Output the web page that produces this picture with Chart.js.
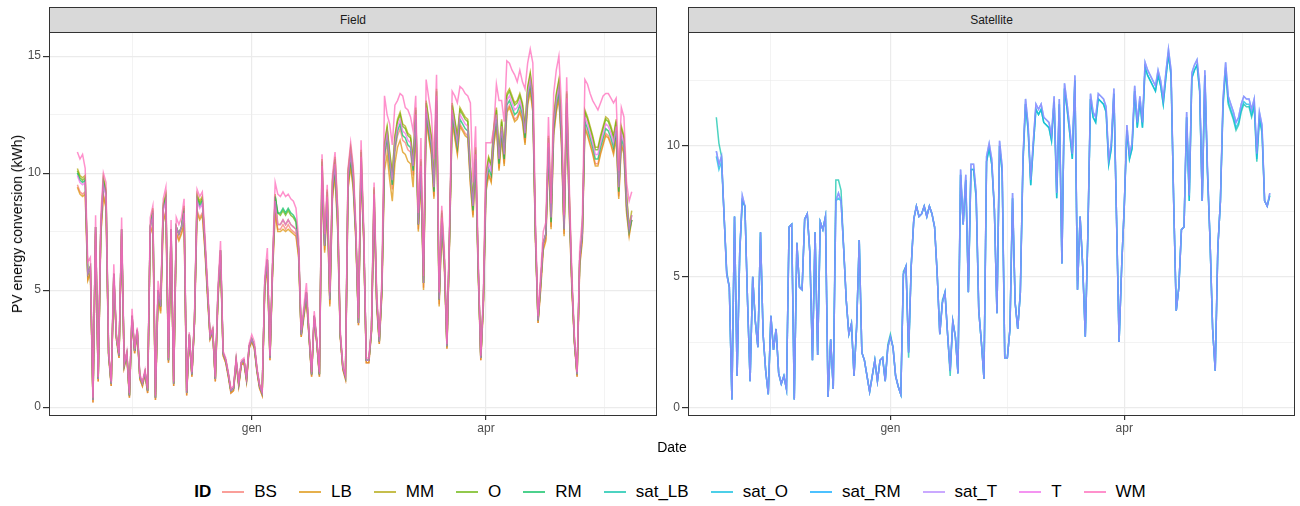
<!DOCTYPE html>
<html>
<head>
<meta charset="utf-8">
<script src="https://cdn.jsdelivr.net/npm/chart.js@4.4.1/dist/chart.umd.min.js"></script>
<style>
  body { margin: 0; width: 1300px; height: 506px; background: #fff; position: relative; overflow: hidden; font-family: 'Liberation Sans', Arial, sans-serif; }
  canvas { position: absolute; }
  .strip { position: absolute; top: 7px; height: 24px; background: #D9D9D9; border: 1px solid #333; border-bottom: none; font-size: 12px; color: #1A1A1A; display: flex; align-items: center; justify-content: center; }
  #yTitle { position: absolute; left: 17px; top: 224px; transform: translate(-50%, -50%) rotate(-90deg); white-space: nowrap; font-size: 14px; color: #000; }
  #xTitle { position: absolute; left: 672px; top: 447px; transform: translate(-50%, -50%); font-size: 14px; color: #000; }
  #legend { position: absolute; top: 480px; left: 20px; width: 1300px; height: 24px; display: flex; justify-content: center; align-items: center; font-size: 17px; color: #000; }
  #legend .title { font-weight: bold; margin-right: 11px; }
  #legend .key { width: 22px; height: 2.5px; margin-right: 10px; }
  #legend .lab { margin-right: 22px; }
</style>
</head>
<body>
<div class="strip" style="left:49px; width:606px;">Field</div>
<div class="strip" style="left:688px; width:605px;">Satellite</div>
<canvas id="fieldChart" width="662" height="430" style="left:0; top:22px;"></canvas>
<canvas id="satChart" width="640" height="430" style="left:660px; top:22px;"></canvas>
<div id="yTitle">PV energy conversion (kWh)</div>
<div id="xTitle">Date</div>
<div id="legend"><span class="title">ID</span></div>
<script>
const seriesNames = ['BS', 'LB', 'MM', 'O', 'RM', 'sat_LB', 'sat_O', 'sat_RM', 'sat_T', 'T', 'WM'];
const seriesColors = ['#F8766D', '#DB8E00', '#AEA200', '#64B200', '#00BD5C', '#00C1A7', '#00BADE', '#00A6FF', '#B385FF', '#EF67EB', '#FF63B6'];

// days counted from 1 gen; first value is 26 ott
const firstDay = -67;
const xTickValues = [-46, 0, 45, 90, 135.5];
const xTickLabels = ['', 'gen', '', 'apr', ''];
const fieldYTicks = [0, 2.5, 5, 7.5, 10, 12.5, 15];
const satYTicks = [0, 2.5, 5, 7.5, 10, 12.5];

// Field (kWh per day)
const BS = [9.5,9.2,9.1,9.2,5.5,5.8,0.2,7.5,1.1,7.4,
  9.1,8.6,2.2,0.9,5.5,2.9,2.1,7.4,1.7,2.2,
  0.4,3.8,2.3,3.2,1.2,0.9,1.4,0.6,7.5,7.8,
  0.3,4.8,4.1,8.0,8.4,1.9,7.4,0.9,7.5,7.2,
  7.5,7.9,0.5,3.0,1.3,3.6,8.4,8.1,8.3,6.8,
  4.8,2.9,3.2,1.1,4.6,6.5,2.2,1.9,1.3,0.6,
  0.7,1.9,0.9,1.8,1.9,1.1,2.5,2.8,2.5,1.5,
  0.8,0.5,5.1,6.1,2.0,5.8,8.4,7.6,7.6,7.8,
  7.6,7.8,7.6,7.5,7.4,6.5,3.0,3.9,4.7,3.0,
  1.3,3.8,2.7,1.3,9.9,6.7,8.6,4.4,9.0,10.0,
  7.7,3.0,1.6,1.2,9.4,10.4,9.4,7.2,3.5,10.3,
  7.2,1.9,1.9,3.2,8.7,4.4,2.7,4.9,10.6,11.3,
  10.2,9.3,10.9,11.6,11.9,11.4,11.3,11.0,10.9,9.9,
  12.1,7.6,9.9,5.1,12.4,11.6,10.9,9.0,12.9,4.4,
  7.7,6.1,2.5,7.2,12.3,11.6,10.9,12.1,11.9,11.7,
  11.6,9.6,8.2,10.4,5.8,2.0,4.4,9.3,10.0,9.7,
  11.3,12.1,10.2,11.6,10.4,12.7,12.9,12.6,12.3,12.4,
  12.7,12.3,11.3,13.0,13.6,12.7,7.2,3.6,5.1,6.8,
  7.2,10.9,7.7,11.7,12.7,13.3,11.3,7.4,12.8,8.4,
  5.1,2.7,1.3,6.1,7.2,12.0,11.7,11.3,10.9,10.4,
  10.4,10.9,11.3,11.7,11.6,11.3,10.9,11.6,9.0,11.3,
  10.9,8.4,7.4,8.0];
const LB = [9.4,9.1,9.0,9.1,5.4,5.7,0.2,7.4,1.1,7.3,
  9.0,8.5,2.2,0.9,5.4,2.9,2.1,7.3,1.7,2.2,
  0.4,3.8,2.3,3.2,1.2,0.9,1.4,0.6,7.4,7.7,
  0.3,4.7,4.0,7.9,8.3,1.9,7.3,0.9,7.4,7.1,
  7.4,7.8,0.5,3.0,1.3,3.6,8.3,8.0,8.2,6.7,
  4.7,2.9,3.2,1.1,4.5,6.4,2.2,1.9,1.3,0.6,
  0.7,1.9,0.9,1.8,1.9,1.1,2.5,2.8,2.5,1.5,
  0.8,0.5,5.0,6.0,2.0,5.7,8.3,7.5,7.5,7.6,
  7.5,7.6,7.5,7.4,7.3,6.4,3.0,3.8,4.6,3.0,
  1.3,3.8,2.7,1.3,9.8,6.6,8.5,4.3,8.9,9.9,
  7.6,3.0,1.6,1.2,9.3,10.3,9.3,7.1,3.5,10.2,
  7.1,1.9,1.9,3.2,8.6,4.3,2.7,4.8,10.1,10.8,
  9.7,8.8,10.4,11.1,11.4,10.9,10.8,10.5,10.4,9.4,
  11.8,7.5,9.8,5.0,12.3,11.5,10.8,8.9,12.8,4.3,
  7.6,6.0,2.5,7.1,12.2,11.5,10.8,12.0,11.8,11.6,
  11.5,9.5,8.1,10.3,5.7,2.0,4.3,9.2,9.9,9.6,
  11.2,12.0,10.1,11.5,10.3,12.6,12.8,12.5,12.2,12.3,
  12.6,12.2,11.2,12.9,13.5,12.6,7.1,3.6,5.0,6.7,
  7.1,10.8,7.6,11.6,12.6,13.2,11.2,7.3,12.7,8.3,
  5.0,2.7,1.3,6.0,7.1,11.9,11.6,11.2,10.8,10.3,
  10.3,10.8,11.2,11.6,11.5,11.2,10.8,11.5,8.9,11.2,
  10.8,8.3,7.3,8.0];
const MM = [10.2,9.9,9.8,9.9,5.7,6.0,0.3,7.7,1.2,7.6,
  9.8,9.3,2.3,1.0,5.7,3.0,2.2,7.6,1.8,2.3,
  0.5,3.9,2.4,3.3,1.3,1.0,1.5,0.7,7.7,8.5,
  0.4,5.0,4.3,8.7,9.1,2.0,7.6,1.0,7.7,7.4,
  7.7,8.6,0.6,3.1,1.4,3.7,9.1,8.8,9.0,7.0,
  5.0,3.0,3.3,1.2,4.8,6.7,2.3,2.0,1.4,0.7,
  0.8,2.0,1.0,1.9,2.0,1.2,2.6,2.9,2.6,1.6,
  0.9,0.6,5.3,6.3,2.1,6.0,9.1,7.8,7.8,8.0,
  7.8,8.0,7.8,7.7,7.6,6.7,3.1,4.0,4.9,3.1,
  1.4,3.9,2.8,1.4,10.6,6.9,9.3,4.6,9.7,10.7,
  8.4,3.1,1.7,1.3,10.1,11.1,10.1,7.4,3.6,11.0,
  7.4,2.0,2.0,3.3,9.4,4.6,2.8,5.1,11.3,12.0,
  10.9,10.0,11.6,12.3,12.6,12.1,12.0,11.7,11.6,10.6,
  12.8,7.8,10.6,5.3,13.1,12.3,11.6,9.7,13.6,4.6,
  8.4,6.3,2.6,7.4,13.0,12.3,11.6,12.8,12.6,12.4,
  12.3,10.3,8.9,11.1,6.0,2.1,4.6,10.0,10.7,10.4,
  12.0,12.8,10.9,12.3,11.1,13.4,13.6,13.3,13.0,13.1,
  13.4,13.0,12.0,13.7,14.3,13.4,7.4,3.7,5.3,7.0,
  7.4,11.6,8.4,12.4,13.4,14.0,12.0,7.6,13.5,9.1,
  5.3,2.8,1.4,6.3,7.4,12.7,12.4,12.0,11.6,11.1,
  11.1,11.6,12.0,12.4,12.3,12.0,11.6,12.3,9.7,12.0,
  11.6,9.1,7.7,8.4];
const O = [10.1,9.8,9.7,9.8,5.7,6.0,0.3,7.7,1.2,7.6,
  9.7,9.2,2.3,1.0,5.7,3.0,2.2,7.6,1.8,2.3,
  0.5,3.9,2.4,3.3,1.3,1.0,1.5,0.7,7.7,8.4,
  0.4,5.0,4.3,8.6,9.0,2.0,7.6,1.0,7.7,7.4,
  7.7,8.5,0.6,3.1,1.4,3.7,9.0,8.7,8.9,7.0,
  5.0,3.0,3.3,1.2,4.8,6.7,2.3,2.0,1.4,0.7,
  0.8,2.0,1.0,1.9,2.0,1.2,2.6,2.9,2.6,1.6,
  0.9,0.6,5.3,6.3,2.1,6.0,9.0,8.3,8.2,8.4,
  8.2,8.4,8.2,8.1,7.9,6.8,3.1,4.0,4.9,3.1,
  1.4,3.9,2.8,1.4,10.5,6.9,9.2,4.6,9.6,10.6,
  8.3,3.1,1.7,1.3,10.0,11.0,10.0,7.4,3.6,10.9,
  7.4,2.0,2.0,3.3,9.3,4.6,2.8,5.1,11.2,11.9,
  10.8,9.9,11.5,12.2,12.5,12.0,11.9,11.6,11.5,10.5,
  12.7,7.8,10.5,5.3,13.0,12.2,11.5,9.6,13.5,4.6,
  8.3,6.3,2.6,7.4,12.9,12.2,11.5,12.7,12.5,12.3,
  12.2,10.2,8.8,11.0,6.0,2.1,4.6,9.9,10.6,10.3,
  11.9,12.7,10.8,12.2,11.0,13.3,13.5,13.2,12.9,13.0,
  13.3,12.9,11.9,13.6,14.2,13.3,7.4,3.7,5.3,7.0,
  7.4,11.5,8.3,12.3,13.3,13.9,11.9,7.6,13.4,9.0,
  5.3,2.8,1.4,6.3,7.4,12.6,12.3,11.9,11.5,11.0,
  11.0,11.5,11.9,12.3,12.2,11.9,11.5,12.2,9.6,11.9,
  11.5,9.0,7.6,8.2];
const RM = [10.0,9.7,9.6,9.7,5.7,6.0,0.3,7.7,1.2,7.6,
  9.6,9.1,2.3,1.0,5.7,3.0,2.2,7.6,1.8,2.3,
  0.5,3.9,2.4,3.3,1.3,1.0,1.5,0.7,7.7,8.3,
  0.4,5.0,4.3,8.5,8.9,2.0,7.6,1.0,7.7,7.4,
  7.7,8.4,0.6,3.1,1.4,3.7,8.9,8.6,8.8,7.0,
  5.0,3.0,3.3,1.2,4.8,6.7,2.3,2.0,1.4,0.7,
  0.8,2.0,1.0,1.9,2.0,1.2,2.6,2.9,2.6,1.6,
  0.9,0.6,5.3,6.3,2.1,6.0,9.0,8.3,8.3,8.5,
  8.3,8.5,8.3,8.2,8.0,6.8,3.1,4.0,4.9,3.1,
  1.4,3.9,2.8,1.4,10.1,6.9,8.8,4.6,9.2,10.2,
  7.9,3.1,1.7,1.3,9.6,10.6,9.6,7.4,3.6,10.5,
  7.4,2.0,2.0,3.3,8.9,4.6,2.8,5.1,10.8,11.5,
  10.4,9.5,11.1,11.8,12.1,11.6,11.5,11.2,11.1,10.1,
  12.3,7.8,10.1,5.3,12.6,11.8,11.1,9.2,13.1,4.6,
  7.9,6.3,2.6,7.4,12.5,11.8,11.1,12.3,12.1,11.9,
  11.8,9.8,8.4,10.6,6.0,2.1,4.6,9.5,10.2,9.9,
  11.5,12.3,10.4,11.8,10.6,12.9,13.1,12.8,12.5,12.6,
  12.9,12.5,11.5,13.2,13.8,12.9,7.4,3.7,5.3,7.0,
  7.4,11.1,7.9,11.9,12.9,13.5,11.5,7.6,13.0,8.6,
  5.3,2.8,1.4,6.3,7.4,12.2,11.9,11.5,11.1,10.6,
  10.6,11.1,11.5,11.9,11.8,11.5,11.1,11.8,9.2,11.5,
  11.1,8.6,7.5,8.0];
const T = [9.9,9.6,9.5,9.6,5.7,6.0,0.3,7.7,1.2,7.6,
  9.5,9.0,2.3,1.0,5.7,3.0,2.2,7.6,1.8,2.3,
  0.5,3.9,2.4,3.3,1.3,1.0,1.5,0.7,7.7,8.2,
  0.4,5.0,4.3,8.4,8.8,2.0,7.6,1.0,7.7,7.4,
  7.7,8.3,0.6,3.1,1.4,3.7,8.8,8.5,8.7,7.0,
  5.0,3.0,3.3,1.2,4.8,6.7,2.3,2.0,1.4,0.7,
  0.8,2.0,1.0,1.9,2.0,1.2,2.6,2.9,2.6,1.6,
  0.9,0.6,5.3,6.3,2.1,6.0,8.8,7.8,7.8,8.0,
  7.8,8.0,7.8,7.7,7.6,6.7,3.1,4.0,4.9,3.1,
  1.4,3.9,2.8,1.4,10.3,6.9,9.0,4.6,9.4,10.4,
  8.1,3.1,1.7,1.3,9.8,10.8,9.8,7.4,3.6,10.7,
  7.4,2.0,2.0,3.3,9.1,4.6,2.8,5.1,11.0,11.7,
  10.6,9.7,11.3,12.0,12.3,11.8,11.7,11.4,11.3,10.3,
  12.5,7.8,10.3,5.3,12.8,12.0,11.3,9.4,13.3,4.6,
  8.1,6.3,2.6,7.4,12.7,12.0,11.3,12.5,12.3,12.1,
  12.0,10.0,8.6,10.8,6.0,2.1,4.6,9.7,10.4,10.1,
  11.7,12.5,10.6,12.0,10.8,13.1,13.3,13.0,12.7,12.8,
  13.1,12.7,11.7,13.4,14.0,13.1,7.4,3.7,5.3,7.0,
  7.4,11.3,8.1,12.1,13.1,13.7,11.7,7.6,13.2,8.8,
  5.3,2.8,1.4,6.3,7.4,12.4,12.1,11.7,11.3,10.8,
  10.8,11.3,11.7,12.1,12.0,11.7,11.3,12.0,9.4,11.7,
  11.3,8.8,7.6,8.2];
const WM = [10.9,10.6,10.8,10.2,6.2,6.4,0.4,8.2,1.3,8.2,
  10.0,9.6,2.4,1.1,6.1,3.1,2.3,8.1,1.9,2.4,
  0.6,4.2,2.5,3.4,1.4,1.1,1.6,0.8,8.1,8.6,
  0.5,5.4,4.6,8.9,9.4,2.1,8.0,1.1,8.1,7.8,
  8.1,8.9,0.7,3.2,1.5,3.9,9.3,9.0,9.2,7.4,
  5.3,3.1,3.4,1.3,5.1,7.1,2.4,2.1,1.5,0.8,
  0.9,2.1,1.1,2.0,2.1,1.3,2.7,3.1,2.8,1.7,
  1.0,0.7,5.6,6.8,2.2,6.4,9.6,9.1,9.0,9.2,
  9.0,9.1,8.9,8.8,8.5,7.2,3.3,4.3,5.3,3.3,
  1.5,4.1,2.9,1.5,10.8,7.4,9.5,4.9,9.9,10.9,
  8.6,3.3,1.8,1.4,10.2,11.3,10.3,7.8,3.8,11.4,
  7.8,2.1,2.1,3.5,9.6,4.9,3.0,5.5,13.3,12.5,
  12.1,11.2,12.9,13.1,13.4,13.3,12.8,12.7,12.4,11.8,
  13.3,8.3,11.5,5.6,14.0,13.2,12.5,10.6,14.2,4.9,
  8.6,6.7,2.7,7.9,13.5,13.3,13.0,13.7,13.6,13.4,
  13.3,13.0,9.6,12.0,6.4,2.2,4.9,11.3,11.3,11.3,
  11.9,13.8,13.1,13.1,12.2,14.8,14.7,14.4,14.2,13.9,
  14.4,13.9,13.6,14.7,15.3,14.7,8.0,3.9,5.7,7.5,
  7.9,12.4,8.7,13.4,14.4,15.0,12.9,8.2,14.1,9.5,
  5.7,3.0,1.5,6.8,8.0,14.0,13.8,13.4,13.1,12.9,
  12.7,13.0,13.3,13.4,13.4,13.2,13.0,13.2,10.1,12.8,
  12.4,9.6,8.8,9.2];

// Satellite (kWh per day)
const satLB = [11.1,10.1,9.6,7.3,5.2,4.6,0.3,7.3,1.2,5.9,
  7.9,7.7,4.1,1.0,5.0,3.3,2.3,6.7,2.8,1.4,
  0.5,3.5,2.2,3.0,1.3,0.9,1.2,0.7,6.9,7.0,
  0.3,6.3,4.6,4.5,7.2,7.4,5.9,1.8,6.7,2.0,
  7.1,6.8,7.3,0.4,2.6,0.7,8.7,8.7,8.3,6.1,
  4.1,2.8,3.2,1.2,3.1,6.4,2.1,1.8,1.2,0.6,
  1.2,1.8,1.0,1.8,1.9,1.0,2.4,2.8,2.3,1.2,
  0.8,0.5,5.2,5.4,1.9,5.4,7.2,7.7,7.3,7.4,
  7.7,7.3,7.7,7.4,6.9,5.1,2.8,4.1,4.4,2.8,
  1.2,3.3,2.7,1.3,8.9,7.0,8.7,4.4,9.1,9.1,
  8.0,3.7,2.5,1.1,9.4,9.9,9.3,7.6,3.6,10.0,
  9.0,1.9,1.9,3.0,8.0,4.0,3.0,4.4,9.3,11.6,
  10.6,8.5,10.0,11.4,11.2,11.4,10.9,10.8,10.7,10.2,
  11.7,8.0,11.6,5.5,12.2,11.4,10.5,9.5,12.5,4.5,
  7.3,5.4,2.7,6.7,11.8,11.1,10.9,11.8,11.7,11.6,
  11.3,9.3,9.9,12.0,7.3,2.5,5.4,7.7,10.6,9.5,
  9.9,12.1,10.7,11.7,10.7,13.0,12.7,12.5,12.3,12.1,
  12.7,12.3,11.6,12.6,13.5,12.7,7.9,3.7,4.6,6.8,
  6.9,11.1,7.9,12.6,12.9,13.1,12.1,7.9,12.7,9.0,
  6.4,3.0,1.4,6.1,7.9,11.5,12.9,11.6,11.3,11.0,
  10.6,10.8,11.3,11.6,11.5,11.5,11.1,11.5,9.4,11.0,
  10.5,7.9,7.7,8.1];
const satO = [9.6,9.1,9.4,7.3,5.1,4.6,0.3,7.3,1.2,5.9,
  7.9,7.7,4.1,1.0,5.0,3.3,2.3,6.7,2.8,1.4,
  0.5,3.5,2.2,3.0,1.3,0.9,1.2,0.7,6.9,7.0,
  0.3,6.3,4.6,4.5,7.2,7.4,5.9,1.8,6.7,2.0,
  7.1,6.8,7.3,0.4,2.6,0.7,7.9,8.0,7.9,6.1,
  4.1,2.8,3.2,1.2,3.1,6.4,2.1,1.8,1.2,0.6,
  1.2,1.8,1.0,1.8,1.9,1.0,2.3,2.7,2.3,1.2,
  0.8,0.5,5.1,5.4,2.1,5.4,7.2,7.7,7.3,7.4,
  7.7,7.3,7.7,7.4,6.9,5.1,2.8,4.0,4.4,2.8,
  1.4,3.3,2.7,1.3,8.9,7.0,8.7,4.4,9.1,9.1,
  8.0,3.7,2.5,1.1,9.4,9.9,9.3,7.6,3.6,10.0,
  9.0,1.9,1.9,3.0,8.0,4.0,3.0,4.4,9.3,11.6,
  10.6,8.5,10.0,11.4,11.2,11.4,10.9,10.8,10.7,10.2,
  11.7,8.0,11.6,5.5,12.2,11.4,10.5,9.5,12.5,4.5,
  7.3,5.4,2.7,6.7,11.8,11.1,10.9,11.8,11.7,11.6,
  11.3,9.3,9.9,12.0,7.3,2.5,5.4,7.7,10.6,9.5,
  9.9,12.1,10.7,11.7,10.7,13.0,12.7,12.5,12.3,12.1,
  12.7,12.3,11.6,12.6,13.5,12.7,7.9,3.7,4.6,6.8,
  6.9,11.1,7.9,12.6,12.9,13.1,12.1,7.9,12.7,9.0,
  6.4,3.0,1.4,6.1,7.9,11.6,13.0,11.7,11.4,11.1,
  10.7,10.9,11.4,11.7,11.6,11.6,11.2,11.6,9.5,11.1,
  10.6,7.9,7.7,8.1];
const satRM = [9.8,9.3,9.6,7.3,5.1,4.6,0.3,7.3,1.2,5.9,
  8.1,7.7,4.1,1.0,5.0,3.3,2.3,6.7,2.8,1.4,
  0.5,3.5,2.2,3.0,1.3,0.9,1.2,0.7,6.9,7.0,
  0.3,6.3,4.6,4.5,7.2,7.4,5.9,1.8,6.7,2.0,
  7.1,6.8,7.3,0.4,2.6,0.7,7.9,8.2,7.9,6.1,
  4.1,2.8,3.2,1.2,3.1,6.4,2.1,1.8,1.2,0.6,
  1.2,1.8,1.0,1.8,1.9,1.0,2.3,2.7,2.3,1.2,
  0.8,0.5,5.1,5.4,2.1,5.4,7.2,7.7,7.3,7.4,
  7.7,7.3,7.7,7.4,6.9,5.1,2.8,4.0,4.4,2.8,
  1.4,3.3,2.7,1.3,9.1,7.0,8.9,4.4,9.3,9.3,
  8.2,3.7,2.5,1.1,9.6,10.1,9.5,7.6,3.6,10.2,
  9.2,1.9,1.9,3.0,8.2,4.0,3.0,4.4,9.5,11.8,
  10.8,8.7,10.2,11.6,11.4,11.6,11.1,11.0,10.9,10.4,
  11.9,8.2,11.8,5.5,12.4,11.6,10.7,9.7,12.7,4.5,
  7.3,5.4,2.7,6.7,12.0,11.3,11.1,12.0,11.9,11.8,
  11.5,9.5,10.1,12.2,7.3,2.5,5.4,7.7,10.8,9.7,
  10.1,12.3,10.9,11.9,10.9,13.2,12.9,12.7,12.5,12.3,
  12.9,12.5,11.8,12.8,13.7,12.9,7.9,3.7,4.6,6.8,
  6.9,11.3,8.1,12.8,13.1,13.3,12.3,7.9,12.9,9.2,
  6.4,3.0,1.4,6.1,7.9,11.8,13.2,11.9,11.6,11.3,
  10.9,11.1,11.6,11.9,11.8,11.8,11.4,11.8,9.7,11.3,
  10.8,7.9,7.7,8.2];
const satT = [9.8,9.3,9.6,7.3,5.1,4.6,0.3,7.3,1.2,5.9,
  8.1,7.7,4.1,1.0,5.0,3.3,2.3,6.7,2.8,1.4,
  0.5,3.5,2.2,3.0,1.3,0.9,1.2,0.7,6.9,7.0,
  0.3,6.3,4.6,4.5,7.2,7.4,5.9,1.8,6.7,2.0,
  7.1,6.8,7.3,0.4,2.6,0.7,7.9,8.2,7.9,6.1,
  4.1,2.8,3.2,1.2,3.1,6.4,2.1,1.8,1.2,0.6,
  1.2,1.8,1.0,1.8,1.9,1.0,2.3,2.7,2.3,1.2,
  0.8,0.5,5.1,5.4,2.1,5.4,7.2,7.7,7.3,7.4,
  7.7,7.3,7.7,7.4,6.9,5.1,2.8,4.0,4.4,2.8,
  1.4,3.3,2.7,1.3,9.1,7.0,8.9,4.4,9.3,9.3,
  8.2,3.7,2.5,1.1,9.6,10.1,9.5,7.6,3.6,10.2,
  9.2,1.9,1.9,3.0,8.2,4.0,3.0,4.4,9.5,11.8,
  10.8,8.7,10.2,11.6,11.4,11.6,11.1,11.0,10.9,10.4,
  11.9,8.2,11.8,5.5,12.4,11.6,10.7,9.7,12.7,4.5,
  7.3,5.4,2.7,6.7,12.0,11.3,11.1,12.0,11.9,11.8,
  11.5,9.5,10.1,12.2,7.3,2.5,5.4,7.7,10.8,9.7,
  10.1,12.3,10.9,11.9,10.9,13.2,12.9,12.7,12.5,12.3,
  12.9,12.5,11.8,12.8,13.7,12.9,7.9,3.7,4.6,6.8,
  6.9,11.3,8.1,12.8,13.1,13.3,12.3,7.9,12.9,9.2,
  6.4,3.0,1.4,6.1,7.9,11.8,13.2,11.9,11.6,11.3,
  10.9,11.1,11.6,11.9,11.8,11.8,11.4,11.8,9.7,11.3,
  10.8,7.9,7.7,8.2];

Chart.defaults.font.family = "'Liberation Sans', Arial, sans-serif";

// draws the grey20 box round the plot area, like theme_bw
const panelBorder = {
  id: 'panelBorder',
  afterDraw(chart) {
    const { ctx, chartArea: a } = chart;
    ctx.save();
    ctx.strokeStyle = '#333333';
    ctx.lineWidth = 1;
    ctx.strokeRect(Math.round(a.left) + 0.5, Math.round(a.top) + 0.5, Math.round(a.width) - 1, Math.round(a.height) - 1);
    ctx.restore();
  }
};

function makeDataset(name, values) {
  const i = seriesNames.indexOf(name);
  return {
    label: name,
    data: values.map((v, k) => ({ x: firstDay + k, y: v })),
    borderColor: seriesColors[i] + 'B3',
    borderWidth: 1.5,
    pointRadius: 0,
    tension: 0,
    order: -i
  };
}

function makeOptions(yMin, yMax, yTicks, yWidth, rightPad) {
  const tickFont = { size: 12 };
  return {
    responsive: false,
    animation: false,
    devicePixelRatio: 1,
    layout: { padding: { top: 10, right: rightPad, bottom: 0, left: 0 } },
    plugins: { legend: { display: false }, tooltip: { enabled: false } },
    scales: {
      x: {
        type: 'linear',
        min: -77.9,
        max: 155.7,
        afterBuildTicks: s => { s.ticks = xTickValues.map(v => ({ value: v })); },
        afterFit: s => { s.height = 36; },
        ticks: {
          autoSkip: false, maxRotation: 0, padding: 1, color: '#4D4D4D', font: tickFont,
          callback: (v, i) => xTickLabels[i]
        },
        grid: {
          color: '#EBEBEB',
          lineWidth: c => (xTickLabels[c.index] ? 1.2 : 0.6),
          tickLength: 4,
          tickColor: c => (xTickLabels[c.index] ? '#333333' : 'rgba(0,0,0,0)')
        },
        border: { display: false }
      },
      y: {
        type: 'linear',
        min: yMin,
        max: yMax,
        afterBuildTicks: s => { s.ticks = yTicks.map(v => ({ value: v })); },
        afterFit: s => { s.width = yWidth; },
        ticks: {
          autoSkip: false, padding: 2, color: '#4D4D4D', font: tickFont,
          callback: v => (v % 5 === 0 ? String(v) : '')
        },
        grid: {
          color: '#EBEBEB',
          lineWidth: c => (c.tick && c.tick.value % 5 === 0 ? 1.2 : 0.6),
          tickLength: 6,
          tickColor: c => (c.tick && c.tick.value % 5 === 0 ? '#333333' : 'rgba(0,0,0,0)')
        },
        border: { display: false }
      }
    }
  };
}

new Chart(document.getElementById('fieldChart'), {
  type: 'line',
  data: {
    datasets: [
      makeDataset('BS', BS), makeDataset('LB', LB), makeDataset('MM', MM), makeDataset('O', O),
      makeDataset('RM', RM), makeDataset('T', T), makeDataset('WM', WM)
    ]
  },
  options: makeOptions(-0.38, 16.03, fieldYTicks, 49, 5),
  plugins: [panelBorder]
});

new Chart(document.getElementById('satChart'), {
  type: 'line',
  data: {
    datasets: [
      makeDataset('sat_LB', satLB), makeDataset('sat_O', satO),
      makeDataset('sat_RM', satRM), makeDataset('sat_T', satT)
    ]
  },
  options: makeOptions(-0.33, 14.36, satYTicks, 28, 5),
  plugins: [panelBorder]
});

// legend shared by both panels
const legendEl = document.getElementById('legend');
seriesNames.forEach((name, i) => {
  const key = document.createElement('span');
  key.className = 'key';
  key.style.background = seriesColors[i] + 'B3';
  const lab = document.createElement('span');
  lab.className = 'lab';
  lab.textContent = name;
  legendEl.appendChild(key);
  legendEl.appendChild(lab);
});
legendEl.lastChild.style.marginRight = '0';
</script>
</body>
</html>
